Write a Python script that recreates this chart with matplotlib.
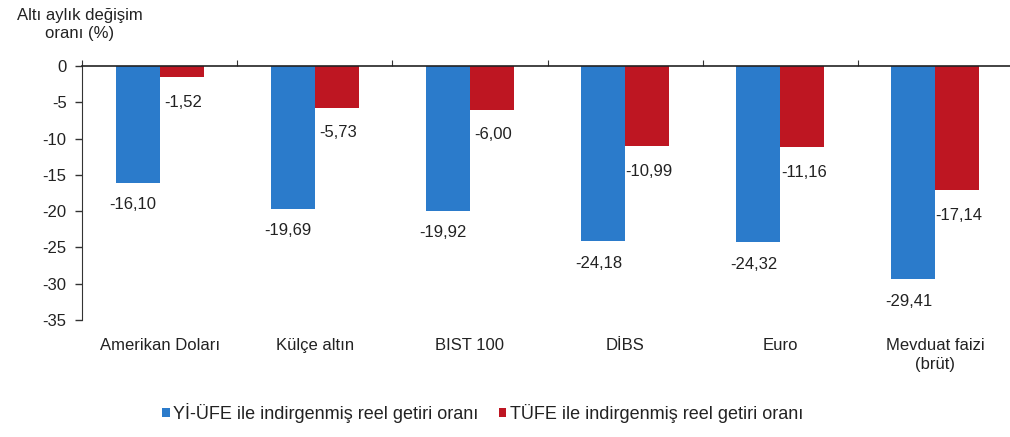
import matplotlib
matplotlib.use("Agg")
import matplotlib.pyplot as plt
import numpy as np

plt.rcParams['font.family'] = ['Liberation Sans', 'DejaVu Sans']

categories = ["Amerikan Doları", "Külçe altın", "BIST 100", "DİBS", "Euro", "Mevduat faizi\n(brüt)"]
yi_ufe = [-16.10, -19.69, -19.92, -24.18, -24.32, -29.41]
tufe = [-1.52, -5.73, -6.00, -10.99, -11.16, -17.14]
series_names = ["Yİ-ÜFE ile indirgenmiş reel getiri oranı", "TÜFE ile indirgenmiş reel getiri oranı"]
yticks = [0, -5, -10, -15, -20, -25, -30, -35]

blue = '#2B7BCB'
red = '#BE1622'
fs = 12
tc = '#222222'

fig = plt.figure(figsize=(10.10, 4.37), dpi=100)
ax = fig.add_axes([82/1010, 117/437, 931/1010, 254/437])

x = np.arange(len(categories))
w = 0.284
b1 = ax.bar(x - w/2, yi_ufe, w, color=blue, label=series_names[0])
b2 = ax.bar(x + w/2, tufe, w, color=red, label=series_names[1])

def fmt(v):
    return f"{v:.2f}".replace('.', ',')

for xi, v in zip(x, yi_ufe):
    ax.text(xi - w/2 - 0.03, v - 3.0, fmt(v), ha='center', va='center', fontsize=fs, color=tc)
for xi, v in zip(x, tufe):
    ax.text(xi + w/2 + 0.01, v - 3.5, fmt(v), ha='center', va='center', fontsize=fs, color=tc)

ax.set_xlim(-0.5, len(categories) - 0.5)
ax.set_ylim(-35, 0)
ax.set_yticks(yticks)
ax.set_yticklabels([str(t) for t in yticks], fontsize=fs, color=tc)
ax.tick_params(axis='y', direction='out', length=5, width=1, pad=6, color='#333333')

for s in ['right', 'bottom']:
    ax.spines[s].set_visible(False)
ax.spines['left'].set_color('#333333')
ax.spines['top'].set_color('#222222')
ax.spines['top'].set_linewidth(1.2)

ax.xaxis.set_ticks_position('top')
ax.set_xticks(np.arange(len(categories) + 1) - 0.5)
ax.set_xticklabels([])
ax.tick_params(axis='x', which='major', direction='out', length=4, top=True, bottom=False, labeltop=False, color='#333333')
ax.set_xticks(x, minor=True)
ax.set_xticklabels(categories, minor=True, fontsize=fs, color=tc)
ax.tick_params(axis='x', which='minor', top=False, bottom=True, labelbottom=True, labeltop=False, length=0, pad=13)
for lab in ax.get_xticklabels(minor=True):
    lab.set_va('top')
    lab.set_linespacing(1.35)

fig.text(0.079, 0.982, "Altı aylık değişim\noranı (%)", ha='center', va='top', fontsize=fs, linespacing=1.25, color=tc)

fig.legend(handles=[b1, b2], loc='center', bbox_to_anchor=(0.478, 0.055), ncol=2, frameon=False,
           fontsize=13, handlelength=0.42, handleheight=0.42, handletextpad=0.2, columnspacing=1.1,
           labelcolor=tc)

fig.savefig("out.png", dpi=100)
